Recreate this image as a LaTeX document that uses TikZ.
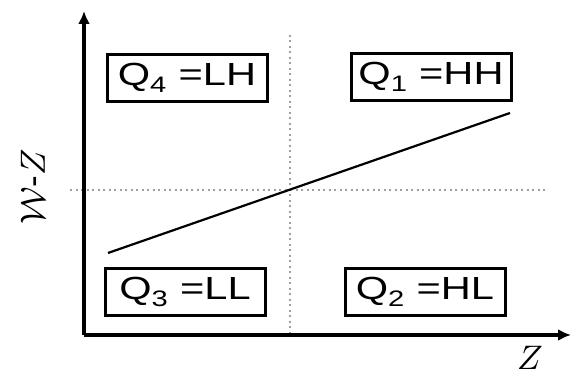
\documentclass[tikz,border=0pt]{standalone}
\usepackage{fontspec}
\setmainfont{Liberation Sans}
\usetikzlibrary{arrows.meta}

\tikzset{
    quadbox/.style={draw,line width=3pt,minimum width=160pt,minimum height=47pt,
        inner sep=0pt,font=\fontsize{32}{36}\selectfont},
    axisline/.style={line width=3.5pt,-{Latex[length=13pt,width=12pt]}},
    splitline/.style={gray!75,line width=2.5pt,dash pattern=on 2pt off 3.5pt}
}
\newcommand{\quadtext}[2]{\scalebox{1.3}[1]{Q\textsubscript{#1} =#2}}

\begin{document}
\begin{tikzpicture}[x=1pt,y=1pt]
    \useasboundingbox (0,0) rectangle (574,379);

    % Origin and axis ends
    \coordinate (origin) at (84,44);
    \coordinate (ytop) at (84,368);
    \coordinate (xend) at (571,44);

    % Split lines (mean of Z and W-Z)
    \coordinate (vtop) at (290,344);
    \coordinate (vbot) at (290,44);
    \coordinate (hleft) at (70,189);
    \coordinate (hright) at (545,189);
    \draw[splitline] (vtop) -- (vbot);
    \draw[splitline] (hleft) -- (hright);

    % Axes
    \draw[axisline] (origin) -- (ytop);
    \draw[axisline] (origin) -- (xend);

    \node[inner sep=0pt] (zlabel) at (530,21) {\scalebox{3.4}{$Z$}};
    \node[rotate=90] (wzlabel) at (33,192) {\scalebox{3.5}{$\mathcal{W}$-$Z$}};

    % Regression line
    \coordinate (fitlow) at (108,126);
    \coordinate (fithigh) at (510,266);
    \draw[line width=2.2pt] (fitlow) -- (fithigh);

    % Quadrants
    \node[quadbox] (qfour) at (187,301) {\quadtext{4}{LH}};
    \node[quadbox] (qone) at (431,302) {\quadtext{1}{HH}};
    \node[quadbox] (qthree) at (185,87) {\quadtext{3}{LL}};
    \node[quadbox] (qtwo) at (425,87) {\quadtext{2}{HL}};
\end{tikzpicture}
\end{document}
